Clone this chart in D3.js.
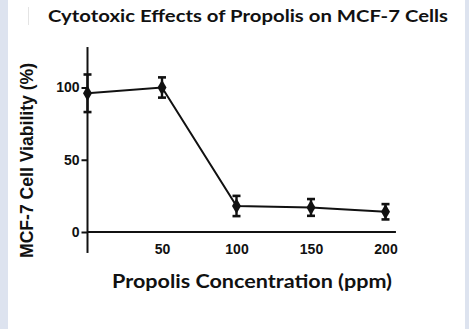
<!DOCTYPE html>
<html><head><meta charset="utf-8">
<script src="https://cdn.jsdelivr.net/npm/d3@7"></script>
<style>html,body{margin:0;padding:0;background:#dde3ef;}</style>
</head><body>
<script>
const concentrations = [0, 50, 100, 150, 200];
const viability = [96, 100, 18, 17, 14];
const errors = [13, 7, 7, 5.8, 5.3];
const xTicks = [50, 100, 150, 200];
const yTicks = [0, 50, 100];
const title = "Cytotoxic Effects of Propolis on MCF-7 Cells";
const xLabel = "Propolis Concentration (ppm)";
const yLabel = "MCF-7 Cell Viability (%)";

const W = 469, H = 329;
const svg = d3.select("body").append("svg").attr("width", W).attr("height", H);
svg.append("rect").attr("x", 0).attr("y", 0).attr("width", W).attr("height", H).attr("fill", "#dde3ef");
svg.append("rect").attr("x", 8).attr("y", 0).attr("width", 457).attr("height", H).attr("fill", "#ffffff");
svg.append("line").attr("x1", 28.5).attr("x2", 28.5).attr("y1", 7).attr("y2", 25).attr("stroke", "#e4e4e4").attr("stroke-width", 1);

const x = d3.scaleLinear().domain([0, 200]).range([87.5, 385.5]);
const y = d3.scaleLinear().domain([0, 100]).range([232, 87.5]);

// axes
const axisColor = "#111";
svg.append("line").attr("x1", x(0)).attr("x2", x(207)).attr("y1", y(0)).attr("y2", y(0)).attr("stroke", axisColor).attr("stroke-width", 2);
svg.append("line").attr("x1", x(0)).attr("x2", x(0)).attr("y1", y(-14.5)).attr("y2", y(128)).attr("stroke", axisColor).attr("stroke-width", 2);

const xAxis = d3.axisBottom(x).tickValues(xTicks).tickSize(0).tickPadding(12);
const gx = svg.append("g").attr("transform", `translate(0,${y(0)})`).call(xAxis);
gx.select(".domain").remove();
gx.selectAll("text").attr("font-family", "Liberation Sans, Arial, sans-serif").attr("font-weight", "bold").attr("font-size", 14).attr("fill", "#111");

const yAxis = d3.axisLeft(y).tickValues(yTicks).tickSize(6).tickPadding(2);
const gy = svg.append("g").attr("transform", `translate(${x(0)},0)`).call(yAxis);
gy.select(".domain").remove();
gy.selectAll("line").attr("stroke", axisColor).attr("stroke-width", 2);
gy.selectAll("text").attr("font-family", "Liberation Sans, Arial, sans-serif").attr("font-weight", "bold").attr("font-size", 14).attr("fill", "#111");

// data
const data = concentrations.map((c, i) => ({c, v: viability[i], e: errors[i]}));
const line = d3.line().x(d => x(d.c)).y(d => y(d.v));
svg.append("path").datum(data).attr("d", line).attr("fill", "none").attr("stroke", "#111").attr("stroke-width", 2);

const eb = svg.append("g").attr("stroke", "#111");
data.forEach(d => {
  eb.append("line").attr("x1", x(d.c)).attr("x2", x(d.c)).attr("y1", y(d.v - d.e)).attr("y2", y(d.v + d.e)).attr("stroke-width", 2.4);
  [d.v - d.e, d.v + d.e].forEach(v => {
    eb.append("line").attr("x1", x(d.c) - 4).attr("x2", x(d.c) + 4).attr("y1", y(v)).attr("y2", y(v)).attr("stroke-width", 2.6);
  });
});
svg.append("g").selectAll("path").data(data).join("path")
  .attr("transform", d => `translate(${x(d.c)},${y(d.v)})`)
  .attr("d", d3.symbol(d3.symbolDiamond, 70))
  .attr("fill", "#111");

// titles
svg.append("text").attr("x", 48).attr("y", 22).attr("font-family", "Lato, Open Sans, sans-serif").attr("font-weight", "bold")
  .attr("font-size", 17).attr("fill", "#111").attr("textLength", 400).attr("lengthAdjust", "spacingAndGlyphs").text(title);
svg.append("text").attr("x", 112).attr("y", 288).attr("font-family", "Lato, Open Sans, sans-serif").attr("font-weight", "bold")
  .attr("font-size", 18).attr("fill", "#111").attr("textLength", 280).attr("lengthAdjust", "spacingAndGlyphs").text(xLabel);
svg.append("text").attr("transform", "translate(33,160.5) rotate(-90)").attr("text-anchor", "middle")
  .attr("font-family", "Liberation Sans, Arial, sans-serif").attr("font-weight", "bold")
  .attr("font-size", 17.5).attr("fill", "#111").attr("textLength", 195).attr("lengthAdjust", "spacingAndGlyphs").text(yLabel);
</script>
</body></html>
